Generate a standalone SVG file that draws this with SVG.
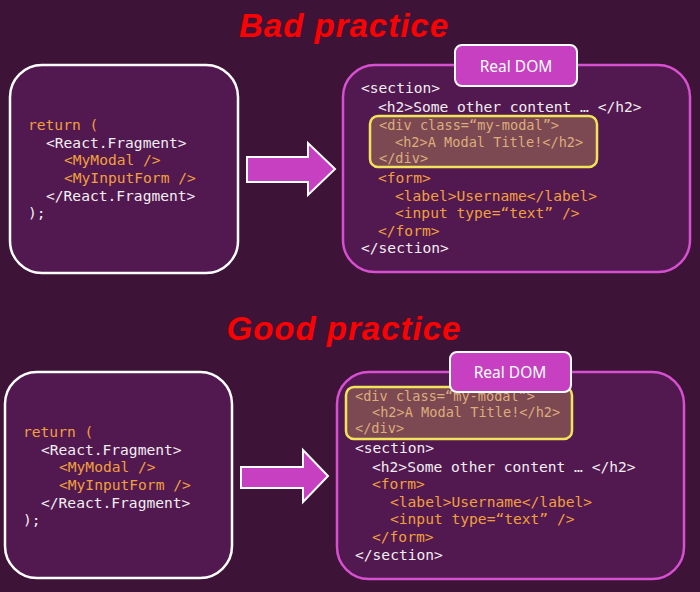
<svg xmlns="http://www.w3.org/2000/svg" width="700" height="592" viewBox="0 0 700 592">
<defs>
<style>
.title{font-family:"Liberation Sans",Arial,sans-serif;font-weight:bold;font-style:italic;font-size:33px;letter-spacing:1px;fill:#ff0000;text-anchor:middle}
.code{font-family:"DejaVu Sans Mono","Liberation Mono",monospace;font-size:14.6px;fill:#f2eef2;white-space:pre}
.o{fill:#f0a03c}
.m{fill:#dcae7c;font-size:13.6px}
.src{fill:#521850;stroke:#ffffff;stroke-width:2.5}
.dom{fill:#521850;stroke:#d650d0;stroke-width:2.5}
.hl{fill:#7c4852;stroke:#f2e45a;stroke-width:2.5}
.tab{fill:#c840c2;stroke:#ffffff;stroke-width:2}
.tabt{font-family:"Noto Sans","Open Sans",sans-serif;font-size:15.5px;fill:#ffffff;text-anchor:middle}
.arrow{fill:#c840c2;stroke:#ffffff;stroke-width:2;stroke-linejoin:miter}
</style>
</defs>
<rect width="700" height="592" fill="#3d1438"/>

<text class="title" x="344" y="37">Bad practice</text>
<text class="title" x="344" y="340">Good practice</text>

<g id="bad-source">
<rect class="src" x="10" y="65" width="228" height="208" rx="32"/>
<text class="code o" x="28" y="130">return (</text>
<text class="code" x="46" y="148">&lt;React.Fragment&gt;</text>
<text class="code o" x="64" y="165">&lt;MyModal /&gt;</text>
<text class="code o" x="64" y="183">&lt;MyInputForm /&gt;</text>
<text class="code" x="46" y="201">&lt;/React.Fragment&gt;</text>
<text class="code" x="28" y="218">);</text>
</g>

<g id="bad-dom">
<rect class="dom" x="343" y="65" width="347" height="207" rx="32"/>
<text class="code" x="361" y="93">&lt;section&gt;</text>
<text class="code" x="378" y="112">&lt;h2&gt;Some other content … &lt;/h2&gt;</text>
<rect class="hl" x="370" y="116" width="227" height="51" rx="8"/>
<text class="code m" x="379" y="130">&lt;div class=“my-modal”&gt;</text>
<text class="code m" x="395" y="147">&lt;h2&gt;A Modal Title!&lt;/h2&gt;</text>
<text class="code m" x="379" y="163">&lt;/div&gt;</text>
<text class="code o" x="378" y="183">&lt;form&gt;</text>
<text class="code o" x="395" y="201">&lt;label&gt;Username&lt;/label&gt;</text>
<text class="code o" x="395" y="218">&lt;input type=“text” /&gt;</text>
<text class="code o" x="378" y="236">&lt;/form&gt;</text>
<text class="code" x="361" y="253">&lt;/section&gt;</text>
<rect class="tab" x="455" y="45" width="122" height="41" rx="7"/>
<text class="tabt" x="516" y="72">Real DOM</text>
</g>

<g id="good-source">
<rect class="src" x="5" y="372" width="227" height="206" rx="32"/>
<text class="code o" x="23" y="437">return (</text>
<text class="code" x="41" y="455">&lt;React.Fragment&gt;</text>
<text class="code o" x="59" y="472">&lt;MyModal /&gt;</text>
<text class="code o" x="59" y="490">&lt;MyInputForm /&gt;</text>
<text class="code" x="41" y="508">&lt;/React.Fragment&gt;</text>
<text class="code" x="23" y="525">);</text>
</g>

<g id="good-dom">
<rect class="dom" x="337" y="372" width="347" height="207" rx="32"/>
<rect class="hl" x="346" y="387" width="226" height="52" rx="8"/>
<text class="code m" x="355" y="401">&lt;div class=“my-modal”&gt;</text>
<text class="code m" x="372" y="417">&lt;h2&gt;A Modal Title!&lt;/h2&gt;</text>
<text class="code m" x="355" y="433">&lt;/div&gt;</text>
<text class="code" x="355" y="453">&lt;section&gt;</text>
<text class="code" x="372" y="472">&lt;h2&gt;Some other content … &lt;/h2&gt;</text>
<text class="code o" x="372" y="489">&lt;form&gt;</text>
<text class="code o" x="390" y="507">&lt;label&gt;Username&lt;/label&gt;</text>
<text class="code o" x="390" y="524">&lt;input type=“text” /&gt;</text>
<text class="code o" x="372" y="542">&lt;/form&gt;</text>
<text class="code" x="355" y="560">&lt;/section&gt;</text>
<rect class="tab" x="450" y="352" width="121" height="40" rx="7"/>
<text class="tabt" x="510" y="378">Real DOM</text>
</g>

<g id="connectors">
<polygon class="arrow" points="247,157 308,157 308,143 335,169 308,195 308,182 247,182"/>
<polygon class="arrow" points="241,467 303,467 303,450 328,476 303,502 303,488 241,488"/>
</g>
</svg>
